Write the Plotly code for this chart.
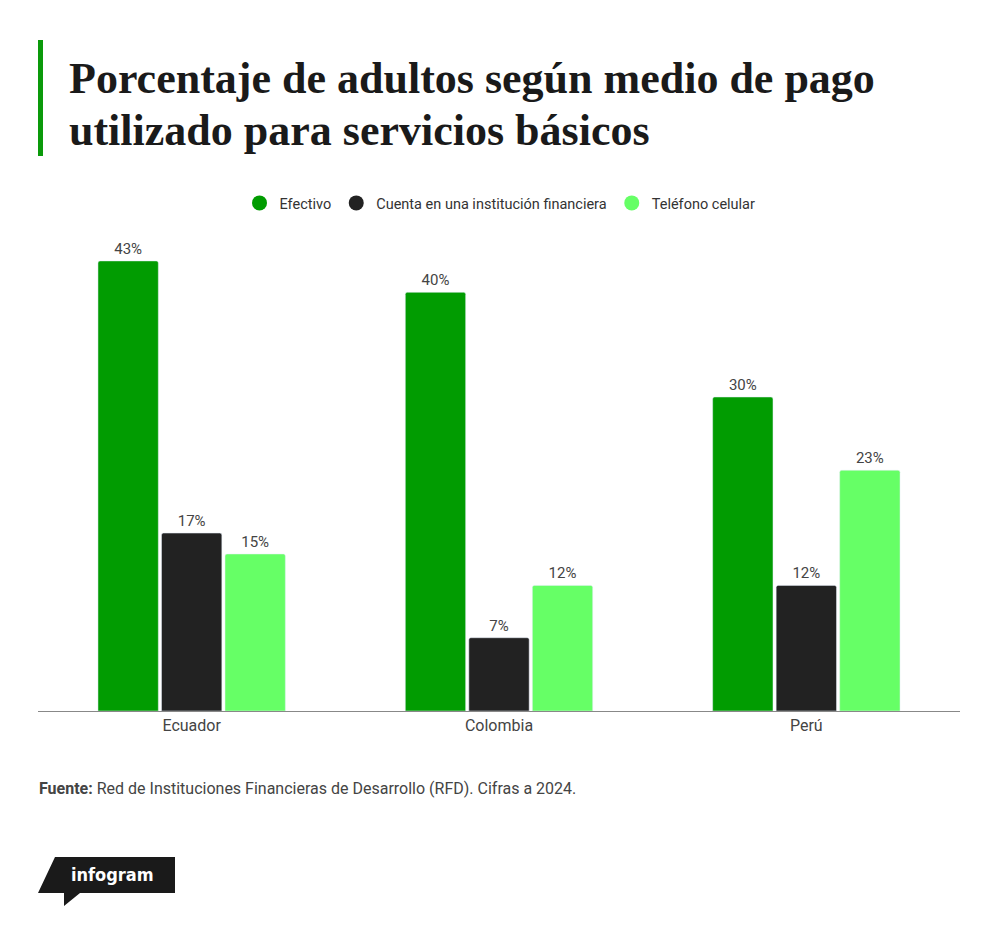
import plotly.graph_objects as go

paises = ["Ecuador", "Colombia", "Perú"]
efectivo = [43, 40, 30]
cuenta = [17, 7, 12]
celular = [15, 12, 23]
series = ["Efectivo", "Cuenta en una institución financiera", "Teléfono celular"]
colores = ["#019c01", "#222222", "#66ff66"]
titulo = ["Porcentaje de adultos según medio de pago", "utilizado para servicios básicos"]

# page is offset by the 8px body margin
OFF = 8
W, H = 1000 - 2 * OFF, 926 - 2 * OFF
plot_left, plot_right, plot_top, plot_bottom = 38, 960, 240, 711
L = plot_left - OFF
R = W - (plot_right - OFF)
T = plot_top - OFF
B = H - (plot_bottom - OFF)
plot_w = W - L - R
plot_h = H - T - B


def px_x(x):
    return (x - plot_left) / plot_w


def px_y(y):
    return (plot_bottom - y) / plot_h


fig = go.Figure()
for nombre, valores, color in zip(series, [efectivo, cuenta, celular], colores):
    fig.add_trace(go.Bar(
        x=paises, y=valores, name=nombre, marker=dict(color=color, cornerradius=2),
        text=[f"{v}%" for v in valores], textposition="outside", cliponaxis=False,
        textfont=dict(family="Roboto", size=15, color="#444444"),
        showlegend=False, hoverinfo="x+y",
    ))
    # circle markers for the legend
    fig.add_trace(go.Scatter(
        x=[None], y=[None], mode="markers", name=nombre,
        marker=dict(color=color, size=15, symbol="circle"), showlegend=True,
    ))

fig.update_layout(
    width=W, height=H,
    margin=dict(l=L, r=R, t=T, b=B),
    paper_bgcolor="white", plot_bgcolor="white",
    barmode="group", bargap=0.38, bargroupgap=0.05,
    font=dict(family="Roboto", color="#444444"),
    legend=dict(orientation="h", x=px_x(500), xanchor="center", y=px_y(203), yanchor="middle",
                font=dict(family="Roboto", size=14.5, color="#333333"), itemwidth=30,
                traceorder="normal"),
    xaxis=dict(showline=True, linecolor="#888888", linewidth=1, ticks="",
               tickfont=dict(family="Roboto", size=16, color="#444444"), showgrid=False),
    yaxis=dict(range=[0, 45], visible=False, showgrid=False, zeroline=False),
)

# title with green accent bar
fig.add_shape(type="rect", xref="paper", yref="paper", x0=px_x(38), x1=px_x(43), y0=px_y(40), y1=px_y(156),
              fillcolor="#0a9a0a", line_width=0)
for linea, y in zip(titulo, [78, 130]):
    fig.add_annotation(xref="paper", yref="paper", x=px_x(67), y=px_y(y), xanchor="left", yanchor="middle",
                       text=f"<b>{linea}</b>", showarrow=False, align="left",
                       font=dict(family="Liberation Serif", size=44, color="#1a1a1a"))

# source
fig.add_annotation(xref="paper", yref="paper", x=px_x(37), y=px_y(788), xanchor="left", yanchor="middle",
                   text="<b>Fuente:</b> Red de Instituciones Financieras de Desarrollo (RFD). Cifras a 2024.",
                   showarrow=False, font=dict(family="Roboto", size=16, color="#444444"))

# infogram logo
logo = (f"M {px_x(55)} {px_y(857)} L {px_x(175)} {px_y(857)} L {px_x(175)} {px_y(893)} "
        f"L {px_x(80)} {px_y(893)} L {px_x(64)} {px_y(906)} L {px_x(64)} {px_y(893)} "
        f"L {px_x(38)} {px_y(893)} Z")
fig.add_shape(type="path", xref="paper", yref="paper", path=logo, fillcolor="#1a1a1a", line_width=0)
fig.add_annotation(xref="paper", yref="paper", x=px_x(112), y=px_y(874), xanchor="center", yanchor="middle",
                   text="<b>infogram</b>", showarrow=False,
                   font=dict(family="DejaVu Sans Condensed", size=18, color="white"))

fig.write_html("out.html")
